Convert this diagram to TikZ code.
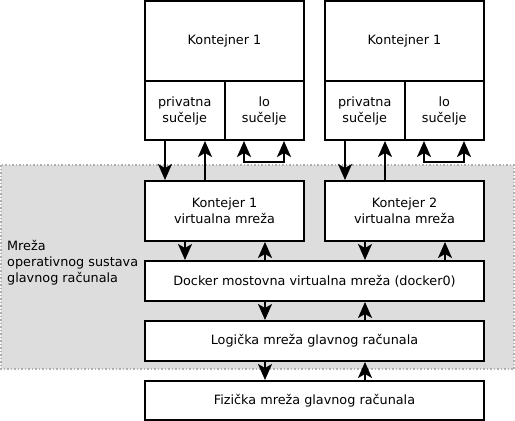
\documentclass[tikz,border=0pt]{standalone}
\usepackage{fontspec}
\setmainfont{DejaVu Sans}
\usetikzlibrary{arrows.meta,calc}
\definecolor{bggray}{HTML}{DDDDDD}
\definecolor{bgborder}{HTML}{B0B0B0}
\begin{document}
\begin{tikzpicture}[x=1pt,y=-1pt,
  txt/.style={font=\fontsize{12.8}{16}\selectfont},
  box/.style={draw=black,line width=2pt,fill=white,inner sep=0pt,align=center,txt},
  tip/.tip={Stealth[length=16pt,width=14pt,inset=4pt]},
  arr/.style={line width=2pt,-tip},
  arrb/.style={line width=2pt,tip-tip}]
\useasboundingbox (0,0) rectangle (515,421);
% host OS network region
\draw[fill=bggray,draw=bgborder,dotted,line width=1.5pt] (1,165) rectangle (514,369);
\node[anchor=west,align=left,txt,inner sep=0pt] (os) at (7,263)
  {Mreža\\operativnog sustava\\glavnog računala};
% container 1
\node[box,minimum width=159,minimum height=80] (c1) at (224.5,41) {Kontejner 1};
\node[box,minimum width=79.5,minimum height=59] (c1p) at (184.75,110.5) {privatna\\sučelje};
\node[box,minimum width=79.5,minimum height=59] (c1l) at (264.25,110.5) {lo\\sučelje};
% container 2
\node[box,minimum width=159,minimum height=80] (c2) at (404.5,41) {Kontejner 1};
\node[box,minimum width=79.5,minimum height=59] (c2p) at (364.75,110.5) {privatna\\sučelje};
\node[box,minimum width=79.5,minimum height=59] (c2l) at (444.25,110.5) {lo\\sučelje};
% virtual networks
\node[box,minimum width=159,minimum height=60] (v1) at (224.5,211) {Kontejer 1\\virtualna mreža};
\node[box,minimum width=159,minimum height=60] (v2) at (404.5,211) {Kontejer 2\\virtualna mreža};
\node[box,minimum width=339,minimum height=40] (dk) at (314.5,281) {Docker mostovna virtualna mreža (docker0)};
\node[box,minimum width=339,minimum height=40] (lg) at (314.5,341) {Logička mreža glavnog računala};
\node[box,minimum width=339,minimum height=39] (fz) at (314.5,400.5) {Fizička mreža glavnog računala};
% container 1 arrows
\draw[arr] (c1p.south -| 165,0) -- (v1.north -| 165,0);
\draw[arr] (v1.north -| 205,0) -- (c1p.south -| 205,0);
\coordinate (l1a) at (244,162);
\coordinate (l1b) at (284,162);
\draw[arrb] (c1l.south -| l1a) -- (l1a) -- (l1b) -- (c1l.south -| l1b);
% container 2 arrows
\draw[arr] (c2p.south -| 345,0) -- (v2.north -| 345,0);
\draw[arr] (v2.north -| 385,0) -- (c2p.south -| 385,0);
\coordinate (l2a) at (424,162);
\coordinate (l2b) at (464,162);
\draw[arrb] (c2l.south -| l2a) -- (l2a) -- (l2b) -- (c2l.south -| l2b);
% virtual nets to docker
\draw[arr] (v1.south -| 185,0) -- (dk.north -| 185,0);
\draw[arr] (dk.north -| 265,0) -- (v1.south -| 265,0);
\draw[arr] (v2.south -| 365,0) -- (dk.north -| 365,0);
\draw[arr] (dk.north -| 445,0) -- (v2.south -| 445,0);
% docker to logical
\draw[arr] (dk.south -| 265,0) -- (lg.north -| 265,0);
\draw[arr] (lg.north -| 365,0) -- (dk.south -| 365,0);
% logical to physical
\draw[arr] (lg.south -| 265,0) -- (fz.north -| 265,0);
\draw[arr] (fz.north -| 365,0) -- (lg.south -| 365,0);
\end{tikzpicture}
\end{document}
